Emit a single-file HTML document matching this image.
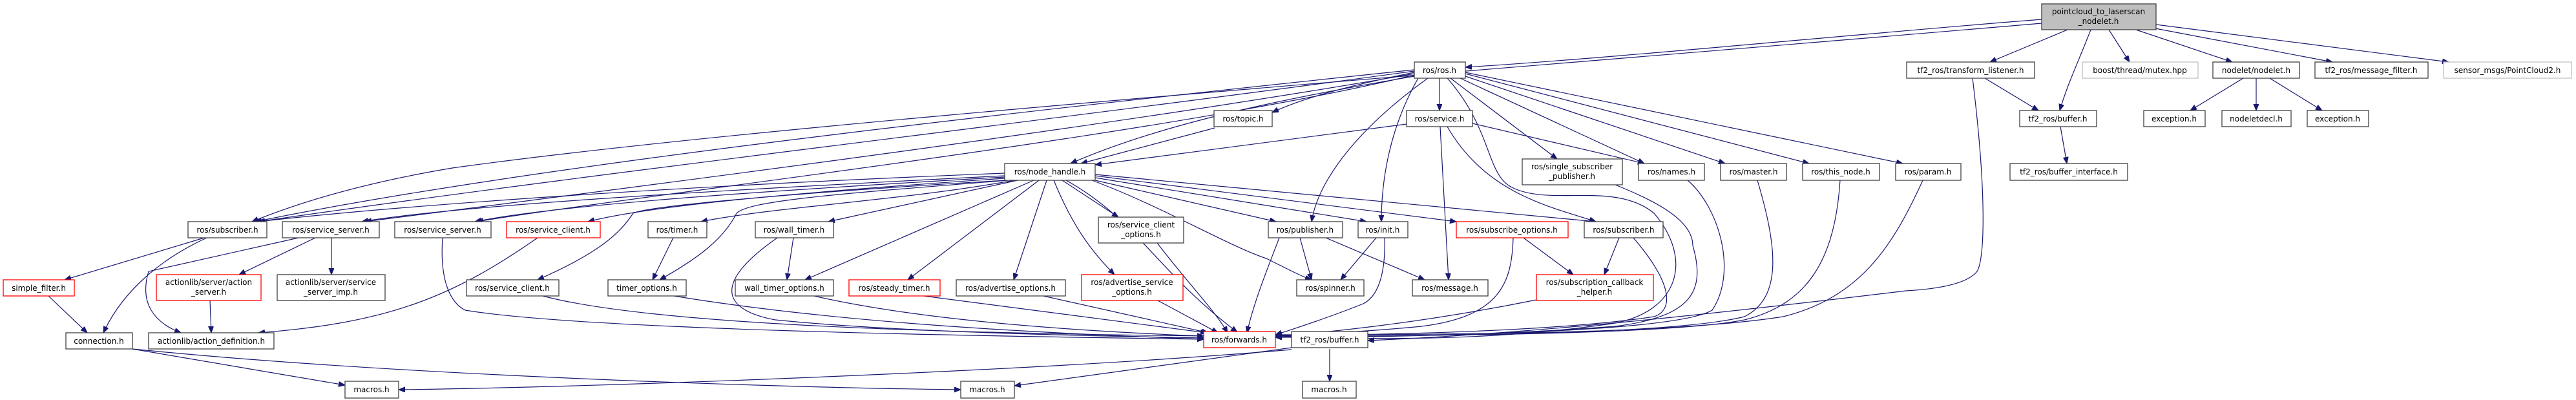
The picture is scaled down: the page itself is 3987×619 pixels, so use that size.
<!DOCTYPE html>
<html><head><meta charset="utf-8"><style>
html,body{margin:0;padding:0;background:#fff;}
svg{display:block;}
text{font-family:"DejaVu Sans","Liberation Sans",sans-serif;font-size:12px;fill:#000;text-anchor:middle;}
.n{fill:#fff;stroke:#404040;stroke-width:1.3;}
.r{fill:#fff;stroke:#ff0000;stroke-width:1.3;}
.g{fill:#fff;stroke:#bfbfbf;stroke-width:1.3;}
.t{fill:#bfbfbf;stroke:#404040;stroke-width:1.3;}
path.e{fill:none;stroke:#191970;stroke-width:1.2;marker-end:url(#a);}
</style></head><body>
<svg width="3987" height="619" viewBox="0 0 3987 619" xmlns="http://www.w3.org/2000/svg">
<defs><marker id="a" markerUnits="userSpaceOnUse" markerWidth="11" markerHeight="9" refX="10" refY="4" orient="auto"><path d="M0,0 L10,4 L0,8 z" fill="#191970" stroke="#191970"/></marker></defs>

<!-- edges -->
<path class="e" d="M3160,30 C2900,50 2500,90 2268,104"/>
<path class="e" d="M3160,36 C2300,110 1200,190 700,260 Q520,290 390,343"/>
<path class="e" d="M3200,46 L3080,96"/>
<path class="e" d="M3236,46 C3215,100 3200,130 3188,171"/>
<path class="e" d="M3264,46 L3296,96"/>
<path class="e" d="M3306,46 L3455,96"/>
<path class="e" d="M3336,44 L3610,96"/>
<path class="e" d="M3337,38 L3790,96"/>
<path class="e" d="M3072,121 L3155,171"/>
<path class="e" d="M3053,121 C3075,300 3072,400 3060,420 Q3040,445 2950,450 C2700,480 2400,515 2117,527"/>
<path class="e" d="M3189,196 L3199,253"/>
<path class="e" d="M3472,121 L3390,171"/>
<path class="e" d="M3492,121 L3492,171"/>
<path class="e" d="M3513,121 L3594,171"/>
<path class="e" d="M2058,540 L2058,590"/>
<path class="e" d="M2228,121 L2228,171"/>
<path class="e" d="M2189,112 C2100,130 2020,150 1969,174"/>
<path class="e" d="M2189,118 C2000,150 1800,190 1657,253"/>
<path class="e" d="M1880,198 L1673,253"/>
<path class="e" d="M2177,192 L1695,255"/>
<path class="e" d="M2189,108 C1500,180 800,260 395,343"/>
<path class="e" d="M2189,110 C1600,190 900,270 400,343"/>
<path class="e" d="M2189,114 C1700,200 900,300 565,343"/>
<path class="e" d="M2189,116 C1800,210 1000,300 738,343"/>
<path class="e" d="M2210,121 C2100,200 2040,280 2030,343"/>
<path class="e" d="M2195,121 C2150,200 2138,280 2138,343"/>
<path class="e" d="M2245,121 L2410,246"/>
<path class="e" d="M2260,121 L2545,253"/>
<path class="e" d="M2268,118 L2670,253"/>
<path class="e" d="M2268,114 L2800,253"/>
<path class="e" d="M2268,112 L2945,253"/>
<path class="e" d="M2240,121 C2310,200 2300,270 2340,290 C2400,320 2500,280 2560,330 C2620,400 2600,480 2500,500 C2300,530 2100,525 1974,520"/>
<path class="e" d="M2279,191 L2545,253"/>
<path class="e" d="M2229,196 L2242,433"/>
<path class="e" d="M2240,196 C2300,300 2400,320 2470,343"/>
<path class="e" d="M2500,286 C2560,310 2620,340 2620,380 C2640,450 2620,490 2500,505 C2300,520 2100,522 1974,522"/>
<path class="e" d="M2612,279 C2660,320 2690,420 2650,480 C2600,510 2300,520 1974,522"/>
<path class="e" d="M2720,279 C2750,380 2760,460 2700,490 C2600,515 2300,520 1974,520"/>
<path class="e" d="M2848,279 C2840,400 2800,470 2700,495 C2600,515 2300,520 1974,520"/>
<path class="e" d="M2976,279 C2930,380 2880,460 2760,490 C2600,515 2300,518 1974,518"/>
<path class="e" d="M1555,268 C1000,290 600,320 400,343"/>
<path class="e" d="M1555,272 C1000,300 700,320 560,343"/>
<path class="e" d="M1555,274 C1100,300 850,320 735,343"/>
<path class="e" d="M1555,276 C1200,300 1000,320 910,343"/>
<path class="e" d="M1570,279 C1400,310 1200,320 1085,343"/>
<path class="e" d="M1575,279 L1282,343"/>
<path class="e" d="M1558,279 C1200,300 1000,320 980,330 C960,360 930,390 832,433"/>
<path class="e" d="M1560,279 C1300,300 1160,310 1140,330 C1120,370 1080,400 1021,433"/>
<path class="e" d="M1600,279 L1246,433"/>
<path class="e" d="M1608,279 L1405,433"/>
<path class="e" d="M1620,279 L1569,433"/>
<path class="e" d="M1631,279 C1660,350 1690,390 1725,425"/>
<path class="e" d="M1644,279 L1731,336"/>
<path class="e" d="M1650,279 C1760,340 1790,420 1915,514"/>
<path class="e" d="M1695,279 L1975,343"/>
<path class="e" d="M1695,275 L2115,343"/>
<path class="e" d="M1695,272 L2254,343"/>
<path class="e" d="M1695,270 L2470,343"/>
<path class="e" d="M1690,279 C1800,320 1900,380 1960,400 C2000,420 2020,430 2030,433"/>
<path class="e" d="M316,368 L100,433"/>
<path class="e" d="M320,368 C250,400 190,450 160,515"/>
<path class="e" d="M488,368 L370,425"/>
<path class="e" d="M513,368 L513,425"/>
<path class="e" d="M462,368 L230,420 C215,470 240,500 280,515"/>
<path class="e" d="M325,465 L327,515"/>
<path class="e" d="M832,368 C700,460 600,500 400,515"/>
<path class="e" d="M75,458 L135,515"/>
<path class="e" d="M685,368 C680,440 700,470 720,480 C900,510 1500,520 1863,525"/>
<path class="e" d="M840,458 C1000,500 1400,515 1863,520"/>
<path class="e" d="M1042,368 L1010,433"/>
<path class="e" d="M1228,368 L1218,433"/>
<path class="e" d="M1203,368 C1100,440 1120,480 1200,495 C1400,515 1700,520 1863,523"/>
<path class="e" d="M1043,458 C1300,500 1600,515 1863,525"/>
<path class="e" d="M1260,458 C1400,490 1600,510 1863,520"/>
<path class="e" d="M1430,458 L1868,515"/>
<path class="e" d="M1615,458 L1870,515"/>
<path class="e" d="M1792,465 L1885,515"/>
<path class="e" d="M1791,376 C1840,440 1880,480 1900,515"/>
<path class="e" d="M1980,368 C1960,420 1940,470 1930,515"/>
<path class="e" d="M2012,368 L2030,433"/>
<path class="e" d="M2052,368 L2205,433"/>
<path class="e" d="M2130,368 L2075,433"/>
<path class="e" d="M2143,368 C2145,430 2130,460 2110,470 C2060,490 2000,510 1974,518"/>
<path class="e" d="M2342,368 C2340,440 2320,490 2200,505 C2100,515 2000,518 1974,520"/>
<path class="e" d="M2358,368 L2435,425"/>
<path class="e" d="M2506,368 L2483,425"/>
<path class="e" d="M2528,368 C2590,440 2590,480 2560,490 C2400,515 2100,518 1974,520"/>
<path class="e" d="M2378,464 C2200,500 2050,515 1974,520"/>
<path class="e" d="M205,540 L534,596"/>
<path class="e" d="M205,540 C600,580 1200,600 1487,603"/>
<path class="e" d="M1999,538 L1570,597"/>
<path class="e" d="M1999,541 C1600,575 900,600 617,603"/>

<!-- nodes -->
<g>
<rect class="t" x="3160" y="6" width="177" height="40"/><text x="3248" y="22">pointcloud_to_laserscan</text><text x="3248" y="37">_nodelet.h</text>
<rect class="n" x="2189" y="96" width="79" height="25"/><text x="2228" y="113">ros/ros.h</text>
<rect class="n" x="2951" y="96" width="198" height="25"/><text x="3050" y="113">tf2_ros/transform_listener.h</text>
<rect class="g" x="3223" y="96" width="179" height="25"/><text x="3312" y="113">boost/thread/mutex.hpp</text>
<rect class="n" x="3425" y="96" width="134" height="25"/><text x="3492" y="113">nodelet/nodelet.h</text>
<rect class="n" x="3583" y="96" width="175" height="25"/><text x="3670" y="113">tf2_ros/message_filter.h</text>
<rect class="g" x="3782" y="96" width="198" height="25"/><text x="3881" y="113">sensor_msgs/PointCloud2.h</text>

<rect class="n" x="1879" y="171" width="90" height="25"/><text x="1924" y="188">ros/topic.h</text>
<rect class="n" x="2177" y="171" width="102" height="25"/><text x="2228" y="188">ros/service.h</text>
<rect class="n" x="3126" y="171" width="119" height="25"/><text x="3185" y="188">tf2_ros/buffer.h</text>
<rect class="n" x="3318" y="171" width="95" height="25"/><text x="3365" y="188">exception.h</text>
<rect class="n" x="3439" y="171" width="107" height="25"/><text x="3492" y="188">nodeletdecl.h</text>
<rect class="n" x="3571" y="171" width="95" height="25"/><text x="3618" y="188">exception.h</text>

<rect class="n" x="1555" y="253" width="140" height="26"/><text x="1625" y="270">ros/node_handle.h</text>
<rect class="n" x="2356" y="246" width="155" height="40"/><text x="2433" y="262">ros/single_subscriber</text><text x="2433" y="277">_publisher.h</text>
<rect class="n" x="2536" y="253" width="102" height="26"/><text x="2587" y="270">ros/names.h</text>
<rect class="n" x="2663" y="253" width="102" height="26"/><text x="2714" y="270">ros/master.h</text>
<rect class="n" x="2790" y="253" width="119" height="26"/><text x="2849" y="270">ros/this_node.h</text>
<rect class="n" x="2934" y="253" width="101" height="26"/><text x="2984" y="270">ros/param.h</text>
<rect class="n" x="3111" y="253" width="182" height="26"/><text x="3202" y="270">tf2_ros/buffer_interface.h</text>

<rect class="n" x="291" y="343" width="122" height="25"/><text x="352" y="360">ros/subscriber.h</text>
<rect class="n" x="437" y="343" width="150" height="25"/><text x="512" y="360">ros/service_server.h</text>
<rect class="n" x="611" y="343" width="149" height="25"/><text x="685" y="360">ros/service_server.h</text>
<rect class="r" x="784" y="343" width="145" height="25"/><text x="856" y="360">ros/service_client.h</text>
<rect class="n" x="1003" y="343" width="91" height="25"/><text x="1048" y="360">ros/timer.h</text>
<rect class="n" x="1169" y="343" width="121" height="25"/><text x="1229" y="360">ros/wall_timer.h</text>
<rect class="n" x="1700" y="336" width="132" height="40"/><text x="1766" y="352">ros/service_client</text><text x="1766" y="367">_options.h</text>
<rect class="n" x="1963" y="343" width="115" height="25"/><text x="2020" y="360">ros/publisher.h</text>
<rect class="n" x="2102" y="343" width="77" height="25"/><text x="2140" y="360">ros/init.h</text>
<rect class="r" x="2254" y="343" width="173" height="25"/><text x="2340" y="360">ros/subscribe_options.h</text>
<rect class="n" x="2452" y="343" width="122" height="25"/><text x="2513" y="360">ros/subscriber.h</text>

<rect class="r" x="5" y="433" width="110" height="25"/><text x="60" y="450">simple_filter.h</text>
<rect class="r" x="242" y="425" width="162" height="40"/><text x="323" y="441">actionlib/server/action</text><text x="323" y="456">_server.h</text>
<rect class="n" x="429" y="425" width="167" height="40"/><text x="512" y="441">actionlib/server/service</text><text x="512" y="456">_server_imp.h</text>
<rect class="n" x="722" y="433" width="143" height="25"/><text x="793" y="450">ros/service_client.h</text>
<rect class="n" x="941" y="433" width="121" height="25"/><text x="1001" y="450">timer_options.h</text>
<rect class="n" x="1138" y="433" width="152" height="25"/><text x="1214" y="450">wall_timer_options.h</text>
<rect class="r" x="1314" y="433" width="141" height="25"/><text x="1384" y="450">ros/steady_timer.h</text>
<rect class="n" x="1480" y="433" width="169" height="25"/><text x="1564" y="450">ros/advertise_options.h</text>
<rect class="r" x="1674" y="425" width="157" height="40"/><text x="1752" y="441">ros/advertise_service</text><text x="1752" y="456">_options.h</text>
<rect class="n" x="2007" y="433" width="104" height="25"/><text x="2059" y="450">ros/spinner.h</text>
<rect class="n" x="2186" y="433" width="117" height="25"/><text x="2244" y="450">ros/message.h</text>
<rect class="r" x="2378" y="425" width="181" height="40"/><text x="2468" y="441">ros/subscription_callback</text><text x="2468" y="456">_helper.h</text>

<rect class="n" x="102" y="515" width="103" height="25"/><text x="153" y="532">connection.h</text>
<rect class="n" x="230" y="515" width="194" height="25"/><text x="327" y="532">actionlib/action_definition.h</text>
<rect class="r" x="1863" y="513" width="111" height="25"/><text x="1918" y="530">ros/forwards.h</text>
<rect class="n" x="1999" y="513" width="118" height="25"/><text x="2058" y="530">tf2_ros/buffer.h</text>

<rect class="n" x="534" y="590" width="83" height="26"/><text x="575" y="607">macros.h</text>
<rect class="n" x="1487" y="590" width="83" height="26"/><text x="1528" y="607">macros.h</text>
<rect class="n" x="2016" y="590" width="83" height="26"/><text x="2057" y="607">macros.h</text>
</g>
</svg>
</body></html>
